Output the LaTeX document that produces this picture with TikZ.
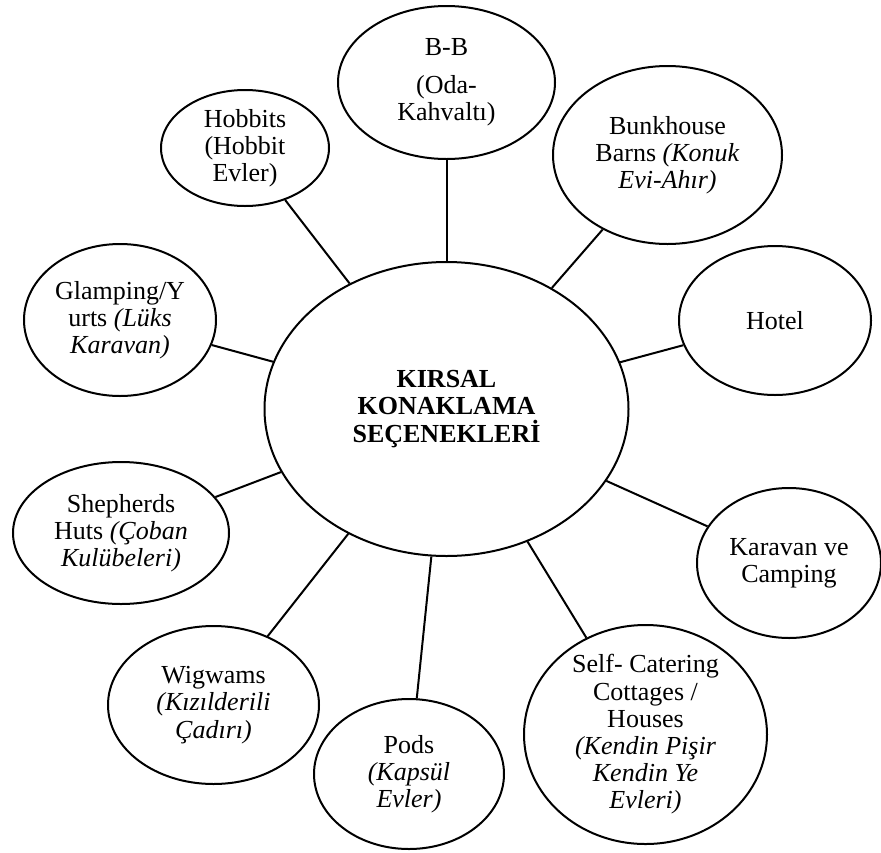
\documentclass[tikz,border=0pt]{standalone}
\usepackage{fontspec}
\setmainfont{Liberation Serif}
\usetikzlibrary{shapes.geometric}
\begin{document}
\begin{tikzpicture}[x=1pt,y=-1pt,
  bub/.style={draw, line width=2pt, ellipse, inner sep=0pt},
  lbl/.style={inner sep=0pt, align=center, font=\fontsize{26}{27.2}\selectfont},
  link/.style={line width=2pt}]
\useasboundingbox (0,0) rectangle (881,852);
% ellipses
\node[bub, minimum width=364pt, minimum height=294pt] (c) at (446.5,409) {};
\node[bub, minimum width=217pt, minimum height=153pt] (bb) at (446.5,82.5) {};
\node[bub, minimum width=168pt, minimum height=116pt] (hob) at (245,148) {};
\node[bub, minimum width=229pt, minimum height=178pt] (bunk) at (667.5,155) {};
\node[bub, minimum width=192pt, minimum height=149pt] (hotel) at (775,320.5) {};
\node[bub, minimum width=184pt, minimum height=150pt] (kar) at (789,563) {};
\node[bub, minimum width=243pt, minimum height=219pt] (self) at (645.5,734.5) {};
\node[bub, minimum width=190pt, minimum height=150pt] (pods) at (409,774) {};
\node[bub, minimum width=211pt, minimum height=158pt] (wig) at (213.5,705) {};
\node[bub, minimum width=216pt, minimum height=142pt] (shep) at (121,533) {};
\node[bub, minimum width=192pt, minimum height=152pt] (glamp) at (120,320) {};
% labels
\node[lbl, font=\fontsize{26}{27.6}\selectfont\bfseries] (cT) at (c) {KIRSAL\\KONAKLAMA\\SEÇENEKLERİ};
\node[lbl] (bbT) at (bb) {B-B\\[11pt](Oda-\\Kahvaltı)};
\node[lbl] (hobT) at (hob) {Hobbits\\(Hobbit\\Evler)};
\node[lbl] (bunkT) at (bunk) {Bunkhouse\\Barns \textit{(Konuk}\\\textit{Evi-Ahır)}};
\node[lbl] (hotelT) at (hotel) {Hotel};
\node[lbl] (karT) at (kar) {Karavan ve\\Camping};
\node[lbl] (selfT) at (self) {Self- Catering\\Cottages /\\Houses\\\textit{(Kendin Pişir}\\\textit{Kendin Ye}\\\textit{Evleri)}};
\node[lbl] (podsT) at (pods) {Pods\\\textit{(Kapsül}\\\textit{Evler)}};
\node[lbl] (wigT) at (wig) {Wigwams\\\textit{(Kızılderili}\\\textit{Çadırı)}};
\node[lbl] (shepT) at (shep) {Shepherds\\Huts \textit{(Çoban}\\\textit{Kulübeleri)}};
\node[lbl] (glampT) at (glamp) {Glamping/Y\\urts \textit{(Lüks}\\\textit{Karavan)}};
% connectors
\foreach \n in {bb,hob,bunk,hotel,kar,self,pods,wig,shep,glamp}
  \draw[link] (c) -- (\n);
\end{tikzpicture}
\end{document}
